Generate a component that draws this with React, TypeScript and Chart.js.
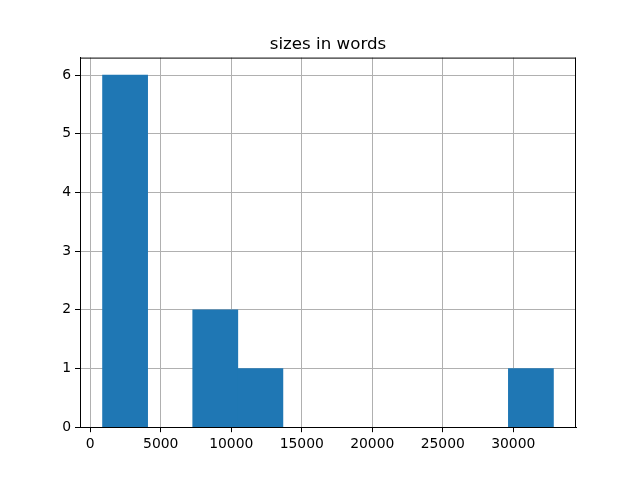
import React, { useEffect, useRef } from "react";
import { Chart, registerables } from "chart.js";

Chart.register(...registerables);

const TITLE = "sizes in words";
// histogram bin edges (words)
const BIN_EDGES = [870, 4068, 7266, 10464, 13662, 16860, 20058, 23256, 26454, 29652, 32850];
// counts per bin
const COUNTS = [6, 0, 2, 1, 0, 0, 0, 0, 0, 1];
const X_TICKS = [0, 5000, 10000, 15000, 20000, 25000, 30000];
const Y_TICKS = [0, 1, 2, 3, 4, 5, 6];

const FONT = '"DejaVu Sans", sans-serif';

export default function App() {
  const ref = useRef<HTMLCanvasElement | null>(null);

  useEffect(() => {
    const canvas = ref.current;
    if (!canvas) return;
    const lo = BIN_EDGES[0];
    const hi = BIN_EDGES[BIN_EDGES.length - 1];
    const span = hi - lo;
    const xMin = lo - 0.05 * span;
    const xMax = hi + 0.05 * span;
    const yMax = Math.max(...COUNTS) * 1.05;

    const points = COUNTS.map((c, i) => ({
      x: (BIN_EDGES[i] + BIN_EDGES[i + 1]) / 2,
      y: c === 0 ? null : c,
    }));

    const frame = {
      id: "frame",
      afterDraw(chart: any) {
        const { ctx, chartArea } = chart;
        ctx.save();
        ctx.strokeStyle = "#000";
        ctx.lineWidth = 1;
        ctx.beginPath();
        ctx.moveTo(chartArea.left, chartArea.top + 0.5);
        ctx.lineTo(chartArea.right, chartArea.top + 0.5);
        ctx.moveTo(chartArea.right - 0.5, chartArea.top);
        ctx.lineTo(chartArea.right - 0.5, chartArea.bottom);
        ctx.stroke();
        ctx.fillStyle = "#000";
        ctx.font = `16.67px ${FONT}`;
        ctx.textAlign = "center";
        ctx.textBaseline = "alphabetic";
        ctx.fillText(TITLE, (chartArea.left + chartArea.right) / 2, chartArea.top - 8.3);
        ctx.restore();
      },
    };

    const chart = new Chart(canvas, {
      type: "bar",
      data: {
        datasets: [
          {
            data: points as any,
            backgroundColor: "#1f77b4",
            borderWidth: 0,
            barPercentage: 1,
            categoryPercentage: 1,
          },
        ],
      },
      options: {
        responsive: false,
        animation: false,
        devicePixelRatio: 1,
        layout: { padding: { left: 0, right: 64, top: 57.6, bottom: 0 } },
        plugins: {
          legend: { display: false },
          tooltip: { enabled: false },
          title: { display: false },
        },
        scales: {
          x: {
            type: "linear",
            min: xMin,
            max: xMax,
            offset: false,
            z: 1,
            afterBuildTicks: (scale: any) => {
              scale.ticks = X_TICKS.map((v) => ({ value: v }));
            },
            afterFit: (scale: any) => {
              scale.height = 52.8;
            },
            grid: {
              offset: false,
              color: "#b0b0b0",
              lineWidth: 1,
              drawTicks: true,
              tickLength: 5,
              tickColor: "#000",
              tickWidth: 1,
            },
            border: { display: true, color: "#000", width: 1 },
            ticks: {
              color: "#000",
              font: { family: FONT, size: 13.9 },
              padding: 4,
              maxRotation: 0,
              autoSkip: false,
              callback: (v: any) => String(v),
            },
          },
          y: {
            type: "linear",
            min: 0,
            max: yMax,
            z: 1,
            afterBuildTicks: (scale: any) => {
              scale.ticks = Y_TICKS.map((v) => ({ value: v }));
            },
            afterFit: (scale: any) => {
              scale.width = 80;
            },
            grid: {
              offset: false,
              color: "#b0b0b0",
              lineWidth: 1,
              drawTicks: true,
              tickLength: 5,
              tickColor: "#000",
              tickWidth: 1,
            },
            border: { display: true, color: "#000", width: 1 },
            ticks: {
              color: "#000",
              font: { family: FONT, size: 13.9 },
              padding: 4,
              autoSkip: false,
              callback: (v: any) => String(v),
            },
          },
        },
      },
      plugins: [frame],
    } as any);

    return () => chart.destroy();
  }, []);

  return (
    <div style={{ position: "absolute", left: 0, top: 0, width: 640, height: 480, background: "#fff" }}>
      <canvas ref={ref} width={640} height={480} style={{ display: "block" }} />
    </div>
  );
}
